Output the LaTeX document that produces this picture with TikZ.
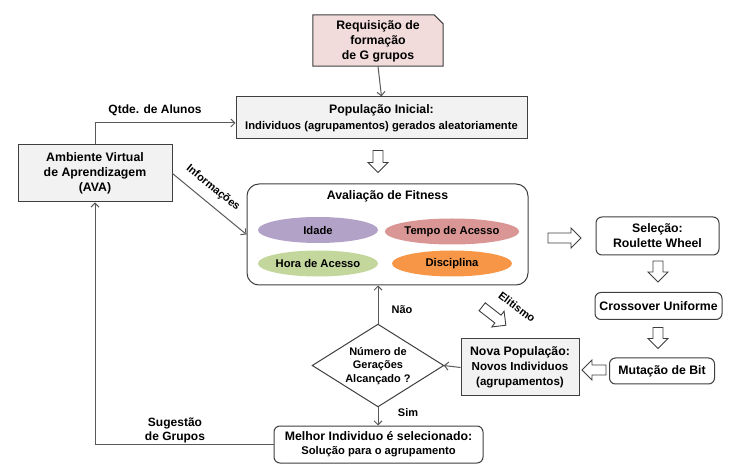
\documentclass[tikz,border=0pt]{standalone}
\usepackage{fontspec}
\setmainfont{Liberation Sans}
\usetikzlibrary{arrows.meta,calc,shapes.geometric}
\definecolor{bd}{HTML}{3F3F3F}
\definecolor{cn}{HTML}{595959}
\definecolor{reqfill}{HTML}{F2DCDB}
\definecolor{grayfill}{HTML}{F2F2F2}
\definecolor{cIdade}{HTML}{B3A2C7}
\definecolor{cTempo}{HTML}{D99694}
\definecolor{cHora}{HTML}{C3D69B}
\definecolor{cDisc}{HTML}{F79646}
\newcommand{\mainsz}{\fontsize{12.3}{15}\selectfont}
\newcommand{\smallsz}{\fontsize{11.2}{14}\selectfont}
\tikzset{
  box/.style={draw=bd, line width=1pt, inner sep=0pt, align=center,
    font=\bfseries\mainsz},
  graybox/.style={box, fill=grayfill},
  roundbox/.style={box, fill=white, rounded corners=6pt},
  plainbox/.style={inner sep=0pt, align=center, font=\bfseries\mainsz},
  oval/.style={ellipse, minimum width=120pt, minimum height=26pt, inner sep=0pt,
    font=\bfseries\smallsz},
  conn/.style={draw=cn, line width=1pt, -{Straight Barb[length=4pt,width=8pt]}},
  lbl/.style={inner sep=1pt, align=center, font=\bfseries\fontsize{12}{14}\selectfont},
  harr/.style={draw=bd, line width=0.9pt, fill=white, line join=miter},
  pics/blockarr/.style={code={
    \draw[harr] (-#1/2,-5) -- (#1/2-10,-5) -- (#1/2-10,-10) -- (#1/2,0)
      -- (#1/2-10,10) -- (#1/2-10,5) -- (-#1/2,5) -- cycle;}}
}
\begin{document}
\begin{tikzpicture}[x=1pt,y=-1pt]
\useasboundingbox (0,0) rectangle (742,470);

% Requisicao (snipped corner)
\node[plainbox, minimum width=130pt, minimum height=51pt] (req) at (378,40.5) {};
\draw[draw=bd, line width=1pt, fill=reqfill]
  (req.north west) -- ($(req.north east)+(-9,0)$) -- ($(req.north east)+(0,9)$)
  -- (req.south east) -- (req.south west) -- cycle;
\node[plainbox, font=\bfseries\fontsize{12.3}{15}\selectfont] (reqt) at (378,41.5) {Requisição de\\formação\\de G grupos};

% Populacao inicial
\node[graybox, minimum width=291pt, minimum height=42pt] (pop) at (381.5,118)
  {População Inicial:\\[1pt]{\smallsz Individuos (agrupamentos) gerados aleatoriamente}};

% AVA
\node[graybox, minimum width=154pt, minimum height=57pt] (ava) at (95,173.5)
  {Ambiente Virtual\\de Aprendizagem\\(AVA)};

% Avaliacao de Fitness
\node[box, rounded corners=12pt, minimum width=281pt, minimum height=101pt] (fit) at (387.5,234.5) {};
\node[plainbox] (fitt) at (387.5,196) {Avaliação de Fitness};
\node[oval, fill=cIdade] (idade) at (318,230) {Idade};
\node[oval, fill=cTempo] (tempo) at (452,231.5) {Tempo de Acesso};
\node[oval, fill=cHora] (hora) at (318,263.5) {Hora de Acesso};
\node[oval, fill=cDisc] (disc) at (452,263.5) {Disciplina};

% right column
\node[roundbox, minimum width=123pt, minimum height=38pt] (sel) at (657.5,236)
  {Seleção:\\Roulette Wheel};
\node[roundbox, minimum width=127pt, minimum height=27pt] (cross) at (658.5,306)
  {Crossover Uniforme};
\node[roundbox, minimum width=105pt, minimum height=26pt] (mut) at (662,371)
  {Mutação de Bit};

% Nova populacao
\node[graybox, minimum width=118pt, minimum height=57pt] (nova) at (520,367.5)
  {{\fontsize{12.3}{14.5}\selectfont Nova População:}\\{\fontsize{11.6}{14.5}\selectfont Novos Individuos}\\{\fontsize{11.6}{14.5}\selectfont (agrupamentos)}};

% Decision diamond
\node[plainbox, minimum width=131pt, minimum height=82pt] (dec) at (378,365.5) {};
\draw[draw=bd, line width=1pt, fill=white]
  (dec.north) -- (dec.east) -- (dec.south) -- (dec.west) -- cycle;
\node[plainbox, font=\bfseries\fontsize{11}{13.5}\selectfont] (dect) at (378,366)
  {Número de\\Gerações\\Alcançado ?};

% Melhor individuo
\node[roundbox, minimum width=209pt, minimum height=37pt] (melhor) at (378.5,444.5)
  {Melhor Individuo é selecionado:\\[-1pt]{\smallsz Solução para o agrupamento}};

% connectors
\draw[conn] (req.south) -- (pop.north);
\draw[conn] (ava.north) |- ([yshift=-5pt]pop.west);
\node[lbl] (lq) at (155,110) {Qtde. de Alunos};
\draw[conn] (ava.east) -- (fit.west);
\node[lbl, rotate=-39, font=\bfseries\fontsize{11}{13}\selectfont] (linf) at (213,188) {Informações};
\draw[conn] (dec.north) -- (dec.north |- fit.south);
\node[lbl, font=\bfseries\fontsize{11}{13}\selectfont] (lnao) at (402,310) {Não};
\draw[conn] (nova.west) -- (dec.east);
\draw[conn] (dec.south) -- (dec.south |- melhor.north);
\node[lbl, font=\bfseries\fontsize{11}{13}\selectfont] (lsim) at (408,413) {Sim};
\draw[conn] (melhor.west) -| (ava.south);
\node[lbl, font=\bfseries\fontsize{12}{14}\selectfont] (lsug) at (175,430) {Sugestão\\de Grupos};

% hollow block arrows
\pic[rotate=-90] at (378,161.5) {blockarr=22};
\pic at (564.5,238) {blockarr=33};
\pic[rotate=-90] at (658,271.5) {blockarr=21};
\pic[rotate=-90] at (658,338) {blockarr=21};
\pic[rotate=180] at (594,370) {blockarr=24};
\pic[rotate=-38] at (494,316) {blockarr=30};
\node[lbl, rotate=-37, font=\bfseries\fontsize{11}{13}\selectfont] (lelit) at (517,307) {Elitismo};
\end{tikzpicture}
\end{document}
